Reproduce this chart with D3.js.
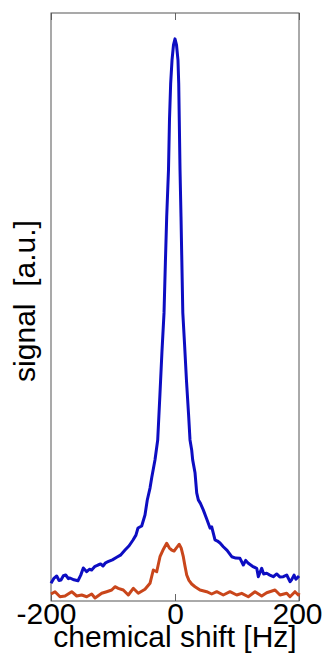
<!DOCTYPE html>
<html>
<head>
<meta charset="utf-8">
<script src="https://cdn.jsdelivr.net/npm/d3@7"></script>
<style>
  html, body { margin: 0; padding: 0; background: #ffffff; }
  svg { display: block; }
  text { font-family: Arial, "Liberation Sans", sans-serif; fill: #000; }
</style>
</head>
<body>
<svg id="chart" width="329" height="671"></svg>
<script>
// Spectrum samples: chemical shift [Hz] and signal [a.u.]
const shiftA = [-200,-195,-190.8,-187,-183.9,-180,-176.3,-172,-169.4,-163,-156.5,-152,-147.9,-142.4,-138,-134.4,-129,-124.2,-120,-116.1,-112,-108.1,-101,-94,-88,-80.6,-74,-67.7,-63,-59.7,-53.7,-48.4,-44.7,-40.3,-37.5,-32.3,-27.9,-24.5,-21,-17.7,-15.5,-13.4,-10.5,-8.9,-7,-4.8,-2.4,0,2.4,4.8,6,6.9,8.1,9.7,11,12.6,15.5,18.5,22,24.2,26.9,28.5,32.3,35,37.6,41,45.6,51,56.5,59.2,64.5,68.5,72.6,77.9,84,91.5,98,104.8,110.2,114,118.2,125,131.8,134.4,139.8,143,147.9,153,158.5,164,169,174.7,180.2,185.5,188,192,195,198.9,200];
const signalA = [3.0,3.9,4.25,3.5,3.57,4.3,4.42,3.8,3.91,3.6,3.45,4.4,5.61,4.98,5.4,5.27,5.9,6.12,6.3,5.95,6.5,6.68,7.0,7.43,7.8,8.67,9.4,10.37,11.2,12.41,12.76,14.63,17.18,19.2,21.0,23.98,27.38,34.7,42.5,49.0,57.6,65.3,73.3,81.8,88.0,92.0,94.6,95.6,94.6,92.0,88.0,81.8,73.3,65.3,58.0,49.0,43.5,37.5,31.5,27.4,25.7,24.0,21.8,18.4,17.2,16.6,15.5,14.0,12.4,12.6,10.4,10.2,9.86,9.23,8.6,7.53,7.3,7.26,6.12,6.9,6.41,5.9,5.56,4.13,5.56,4.6,4.71,4.4,4.13,4.6,4.1,4.13,4.42,3.28,3.6,4.4,3.7,4.13,4.25];

const shiftB = [-200,-193.5,-185.5,-177.4,-166.6,-158.5,-150.5,-142.4,-134.4,-129,-118.2,-110.2,-102.1,-96.8,-91.5,-83.4,-75.3,-67.3,-59.2,-48.4,-40.3,-35,-29.5,-24.2,-19.4,-13.4,-9,-5.3,-1.5,2,6.9,10,13.4,16,18.9,22.5,26.9,32.3,40.3,51.1,59.2,67.3,77.9,88.7,99.5,107.6,118.2,129,139.8,147.9,161.3,169.4,180.2,185.5,193.5,198.9,200];
const signalB = [1.19,1.58,0.73,0.85,1.58,0.85,1.02,0.73,1.19,0.51,1.31,1.58,1.87,2.43,2.16,1.87,1.02,2.16,1.31,1.99,3.01,5.27,4.98,7.53,8.67,9.81,9.0,8.67,8.5,9.0,9.64,9.0,7.53,6.0,4.42,3.5,2.89,2.43,1.87,1.58,1.19,1.58,1.02,1.58,1.02,1.31,0.73,1.58,0.85,1.41,1.87,1.02,1.31,0.73,1.58,1.02,1.36];

const xTicks = [-200, 0, 200];
const xTitle = "chemical shift [Hz]";
const yTitle = "signal  [a.u.]";

const box = { left: 51, right: 299, top: 13, bottom: 601 };
const svg = d3.select("#chart");

const x = d3.scaleLinear().domain([-200, 200]).range([box.left, box.right]);
const y = d3.scaleLinear().domain([0, 100]).range([box.bottom, box.top]);

// x axis with inward ticks; labels use a plain hyphen for negatives
const xAxis = svg.append("g")
  .attr("transform", `translate(0,${box.bottom})`)
  .call(d3.axisBottom(x).tickValues(xTicks).tickFormat(d => String(d)).tickSizeInner(-7).tickSizeOuter(0));
xAxis.select(".domain").remove();
xAxis.selectAll(".tick line").attr("stroke", "#666");
xAxis.selectAll(".tick text")
  .attr("y", 23).attr("dy", 0)
  .attr("dx", d => d < 0 ? -5 : (d > 0 ? -2 : 0))
  .style("font-size", "30px")
  .style("font-family", "Arial, 'Liberation Sans', sans-serif")
  .attr("fill", "#000");

// matching inward ticks on the top edge
const topAxis = svg.append("g")
  .attr("transform", `translate(0,${box.top})`)
  .call(d3.axisTop(x).tickValues(xTicks).tickFormat("").tickSizeInner(-7).tickSizeOuter(0));
topAxis.select(".domain").remove();
topAxis.selectAll(".tick line").attr("stroke", "#666");

// plot frame
svg.append("rect")
  .attr("x", box.left).attr("y", box.top)
  .attr("width", box.right - box.left).attr("height", box.bottom - box.top)
  .attr("fill", "none").attr("stroke", "#555").attr("stroke-width", 1);

const line = d3.line().x(d => x(d[0])).y(d => y(d[1]));

svg.append("path")
  .datum(d3.zip(shiftB, signalB))
  .attr("d", line)
  .attr("fill", "none").attr("stroke", "#c9461b").attr("stroke-width", 3)
  .attr("stroke-linejoin", "round");

svg.append("path")
  .datum(d3.zip(shiftA, signalA))
  .attr("d", line)
  .attr("fill", "none").attr("stroke", "#0d0dc2").attr("stroke-width", 3)
  .attr("stroke-linejoin", "round");

// axis titles
svg.append("text")
  .attr("x", (box.left + box.right) / 2).attr("y", 647)
  .attr("text-anchor", "middle")
  .style("font-size", "30px")
  .text(xTitle);

svg.append("text")
  .attr("transform", "rotate(-90)")
  .attr("x", -301).attr("y", 35)
  .attr("text-anchor", "middle")
  .style("font-size", "30px")
  .style("white-space", "pre")
  .text(yTitle);
</script>
</body>
</html>
